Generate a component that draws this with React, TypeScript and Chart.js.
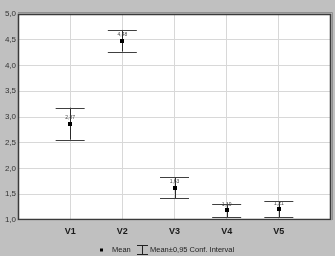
import React, { useEffect, useRef } from "react";
import { Chart, registerables } from "chart.js";

Chart.register(...registerables);

const categories = ["V1", "V2", "V3", "V4", "V5"];
const means = [2.87, 4.48, 1.63, 1.19, 1.21];
const ciLow = [2.56, 4.27, 1.42, 1.05, 1.05];
const ciHigh = [3.18, 4.69, 1.83, 1.32, 1.36];
const meanLabels = ["2,87", "4,48", "1,63", "1,19", "1,21"];
const yTicks = [1.0, 1.5, 2.0, 2.5, 3.0, 3.5, 4.0, 4.5, 5.0];

const fmtComma = (v: number) => v.toFixed(1).replace(".", ",");

// Error bars, value labels, frame and legend
const whiskerPlugin = {
  id: "whiskers",
  beforeDraw(chart: any) {
    const { ctx, width, height } = chart;
    ctx.save();
    ctx.fillStyle = "#c0c0c0";
    ctx.fillRect(0, 0, width, height);
    const a = chart.chartArea;
    ctx.fillStyle = "#ffffff";
    ctx.fillRect(a.left, a.top, a.right - a.left, a.bottom - a.top);
    ctx.restore();
  },
  afterDatasetsDraw(chart: any) {
    const { ctx } = chart;
    const xs = chart.scales.x;
    const ys = chart.scales.y;
    const a = chart.chartArea;
    ctx.save();
    // frame
    ctx.strokeStyle = "#3a3a3a";
    ctx.lineWidth = 1.5;
    ctx.strokeRect(a.left + 0.5, a.top + 0.5, a.right - a.left - 1, a.bottom - a.top - 1);
    ctx.lineWidth = 1;
    ctx.strokeStyle = "#909090";
    ctx.beginPath();
    ctx.moveTo(a.left, a.top - 1.5);
    ctx.lineTo(a.right + 1.5, a.top - 1.5);
    ctx.lineTo(a.right + 1.5, a.bottom);
    ctx.stroke();

    means.forEach((m, i) => {
      const x = xs.getPixelForValue(i + 1);
      const yl = ys.getPixelForValue(ciLow[i]);
      const yh = ys.getPixelForValue(ciHigh[i]);
      const half = 14.5;
      ctx.strokeStyle = "#2a2a2a";
      ctx.lineWidth = 1;
      ctx.beginPath();
      ctx.moveTo(Math.round(x) + 0.5, yl);
      ctx.lineTo(Math.round(x) + 0.5, yh);
      ctx.stroke();
      ctx.strokeStyle = "#404040";
      ctx.beginPath();
      ctx.moveTo(x - half, Math.round(yh) + 0.5);
      ctx.lineTo(x + half, Math.round(yh) + 0.5);
      ctx.moveTo(x - half, Math.round(yl) + 0.5);
      ctx.lineTo(x + half, Math.round(yl) + 0.5);
      ctx.stroke();
      const ym = ys.getPixelForValue(m);
      ctx.fillStyle = "#000000";
      ctx.fillRect(Math.round(x) - 2, Math.round(ym) - 2, 4, 4);
      ctx.fillStyle = "#444444";
      ctx.font = "5px Arial, 'Liberation Sans', sans-serif";
      ctx.textAlign = "center";
      ctx.textBaseline = "middle";
      ctx.fillText(meanLabels[i], x, ym - 6);
    });

    // legend
    const ly = 250;
    ctx.fillStyle = "#000000";
    ctx.fillRect(100, ly - 1.5, 3, 3);
    ctx.fillStyle = "#222222";
    ctx.font = "7.5px Arial, 'Liberation Sans', sans-serif";
    ctx.textAlign = "left";
    ctx.textBaseline = "middle";
    ctx.fillText("Mean", 112, ly);
    ctx.strokeStyle = "#222222";
    ctx.beginPath();
    ctx.moveTo(137, ly - 4.5);
    ctx.lineTo(148, ly - 4.5);
    ctx.moveTo(142.5, ly - 4.5);
    ctx.lineTo(142.5, ly + 4.5);
    ctx.moveTo(137, ly + 4.5);
    ctx.lineTo(148, ly + 4.5);
    ctx.stroke();
    ctx.fillText("Mean\u00b10,95 Conf. Interval", 150, ly);
    ctx.restore();
  },
};

export default function App() {
  const ref = useRef<HTMLCanvasElement | null>(null);
  useEffect(() => {
    document.body.style.margin = "0";
    const chart = new Chart(ref.current as HTMLCanvasElement, {
      type: "scatter",
      data: {
        datasets: [
          {
            data: means.map((m, i) => ({ x: i + 1, y: m })),
            pointRadius: 0,
            showLine: false,
          },
        ],
      },
      options: {
        animation: false,
        responsive: false,
        layout: { padding: { top: 14, right: 4, left: 0, bottom: 0 } },
        plugins: { legend: { display: false }, tooltip: { enabled: false } },
        scales: {
          x: {
            type: "linear",
            min: 0,
            max: 6,
            afterBuildTicks: (s: any) => {
              s.ticks = categories.map((_, i) => ({ value: i + 1 }));
            },
            afterFit: (s: any) => {
              s.height = 36;
            },
            ticks: {
              autoSkip: false,
              maxRotation: 0,
              padding: 6,
              color: "#1a1a1a",
              font: { family: "Arial, 'Liberation Sans', sans-serif", size: 9, weight: "bold" },
              callback: (v: any) => categories[Number(v) - 1] ?? "",
            },
            grid: { color: "#d8d8d8", drawTicks: false },
            border: { display: false },
          },
          y: {
            type: "linear",
            min: 1,
            max: 5,
            afterBuildTicks: (s: any) => {
              s.ticks = yTicks.map((v) => ({ value: v }));
            },
            afterFit: (s: any) => {
              s.width = 18;
            },
            ticks: {
              padding: 2,
              color: "#333333",
              font: { family: "Arial, 'Liberation Sans', sans-serif", size: 8 },
              callback: (v: any) => fmtComma(Number(v)),
            },
            grid: { color: "#d8d8d8", drawTicks: false },
            border: { display: false },
          },
        },
      },
      plugins: [whiskerPlugin],
    } as any);
    return () => chart.destroy();
  }, []);
  return (
    <div style={{ width: 335, height: 256 }}>
      <canvas ref={ref} width={335} height={256} style={{ display: "block" }} />
    </div>
  );
}
